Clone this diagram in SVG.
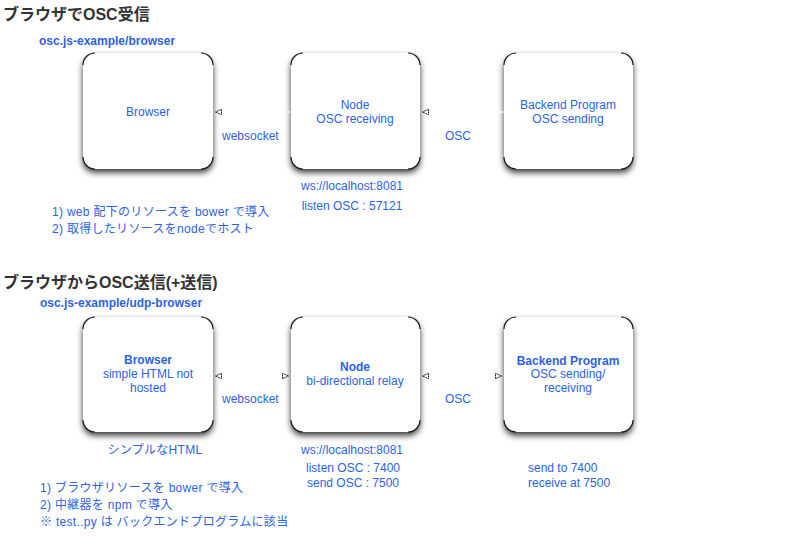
<svg xmlns="http://www.w3.org/2000/svg" width="806" height="536" viewBox="0 0 806 536">
<style>
text{font-family:"Liberation Sans","Noto Sans CJK JP",sans-serif;fill:#2d62e3;font-size:12px}
.title{font-size:16px;font-weight:bold;fill:#333}
.sub{font-weight:bold}
.c{text-anchor:middle}
.b{font-weight:bold}
.jp{letter-spacing:0.3px}
.box{fill:#fff;filter:url(#sh)}
.corner{fill:none;stroke:#111;stroke-width:1.2}
.conn{stroke:#fff;stroke-width:1;fill:none}
</style>
<defs>
<filter id="sh" x="-20%" y="-20%" width="140%" height="140%">
<feDropShadow dx="0" dy="3.5" stdDeviation="3" flood-color="#000" flood-opacity="0.8"/>
</filter>
<marker id="ah" markerWidth="9" markerHeight="8" refX="7.5" refY="3.5" orient="auto-start-reverse" markerUnits="userSpaceOnUse">
<path d="M7,3.5 L1,0.8 L1,6.2 Z" fill="#fff" stroke="#000" stroke-width="0.9" stroke-dasharray="1.5,0.5"/>
</marker>
</defs>
<rect width="806" height="536" fill="#fff"/>

<text class="title" x="3" y="20">ブラウザでOSC受信</text>
<text class="sub" x="39" y="45">osc.js-example/browser</text>

<g id="browser1">
<rect class="box" x="83" y="53" width="130" height="116" rx="12"/>
<path class="corner" d="M83,65 A12 12 0 0 1 95,53 M201,53 A12 12 0 0 1 213,65 M213,157 A12 12 0 0 1 201,169 M95,169 A12 12 0 0 1 83,157"/>
<text class="c" x="148" y="116">Browser</text>
</g>
<g id="node1">
<rect class="box" x="291" y="53" width="129" height="116" rx="12"/>
<path class="corner" d="M291,65 A12 12 0 0 1 303,53 M408,53 A12 12 0 0 1 420,65 M420,157 A12 12 0 0 1 408,169 M303,169 A12 12 0 0 1 291,157"/>
<text class="c" x="355" y="109">Node</text>
<text class="c" x="355" y="123">OSC receiving</text>
</g>
<g id="backend1">
<rect class="box" x="504" y="53" width="129" height="116" rx="12"/>
<path class="corner" d="M504,65 A12 12 0 0 1 516,53 M621,53 A12 12 0 0 1 633,65 M633,157 A12 12 0 0 1 621,169 M516,169 A12 12 0 0 1 504,157"/>
<text class="c" x="568" y="109">Backend Program</text>
<text class="c" x="568" y="123">OSC sending</text>
</g>

<text x="222" y="140">websocket</text>
<text class="c" x="458" y="140">OSC</text>
<text class="c" x="352" y="190">ws://localhost:8081</text>
<text class="c" x="352" y="210">listen OSC : 57121</text>
<text class="jp" x="52" y="216">1) web 配下のリソースを bower で導入</text>
<text class="jp" x="52" y="233">2) 取得したリソースをnodeでホスト</text>

<text class="title" x="3" y="288">ブラウザからOSC送信(+送信)</text>
<text class="sub" x="40" y="307">osc.js-example/udp-browser</text>

<g id="browser2">
<rect class="box" x="83" y="317" width="130" height="115" rx="12"/>
<path class="corner" d="M83,329 A12 12 0 0 1 95,317 M201,317 A12 12 0 0 1 213,329 M213,420 A12 12 0 0 1 201,432 M95,432 A12 12 0 0 1 83,420"/>
<text class="c b" x="148" y="364">Browser</text>
<text class="c" x="148" y="378">simple HTML not</text>
<text class="c" x="148" y="392">hosted</text>
</g>
<g id="node2">
<rect class="box" x="291" y="317" width="129" height="115" rx="12"/>
<path class="corner" d="M291,329 A12 12 0 0 1 303,317 M408,317 A12 12 0 0 1 420,329 M420,420 A12 12 0 0 1 408,432 M303,432 A12 12 0 0 1 291,420"/>
<text class="c b" x="355" y="371">Node</text>
<text class="c" x="355" y="385">bi-directional relay</text>
</g>
<g id="backend2">
<rect class="box" x="504" y="317" width="129" height="115" rx="12"/>
<path class="corner" d="M504,329 A12 12 0 0 1 516,317 M621,317 A12 12 0 0 1 633,329 M633,420 A12 12 0 0 1 621,432 M516,432 A12 12 0 0 1 504,420"/>
<text class="c b" x="568" y="365">Backend Program</text>
<text class="c" x="568" y="378">OSC sending/</text>
<text class="c" x="568" y="392">receiving</text>
</g>

<g id="connectors">
<line class="conn" x1="291" y1="112" x2="215" y2="112" marker-end="url(#ah)"/>
<line class="conn" x1="504" y1="112" x2="422" y2="112" marker-end="url(#ah)"/>
<line class="conn" x1="215" y1="376" x2="289" y2="376" marker-start="url(#ah)" marker-end="url(#ah)"/>
<line class="conn" x1="422" y1="376" x2="502" y2="376" marker-start="url(#ah)" marker-end="url(#ah)"/>
</g>

<text x="222" y="403">websocket</text>
<text class="c" x="458" y="403">OSC</text>
<text class="c jp" x="155" y="454">シンプルなHTML</text>
<text class="c" x="352" y="454">ws://localhost:8081</text>
<text class="c" x="353" y="472">listen OSC : 7400</text>
<text class="c" x="353" y="487">send OSC : 7500</text>
<text x="528" y="472">send to 7400</text>
<text x="528" y="487">receive at 7500</text>
<text class="jp" x="40" y="492">1) ブラウザリソースを bower で導入</text>
<text class="jp" x="40" y="509">2) 中継器を npm で導入</text>
<text class="jp" x="40" y="526">※ test..py は バックエンドプログラムに該当</text>
</svg>
